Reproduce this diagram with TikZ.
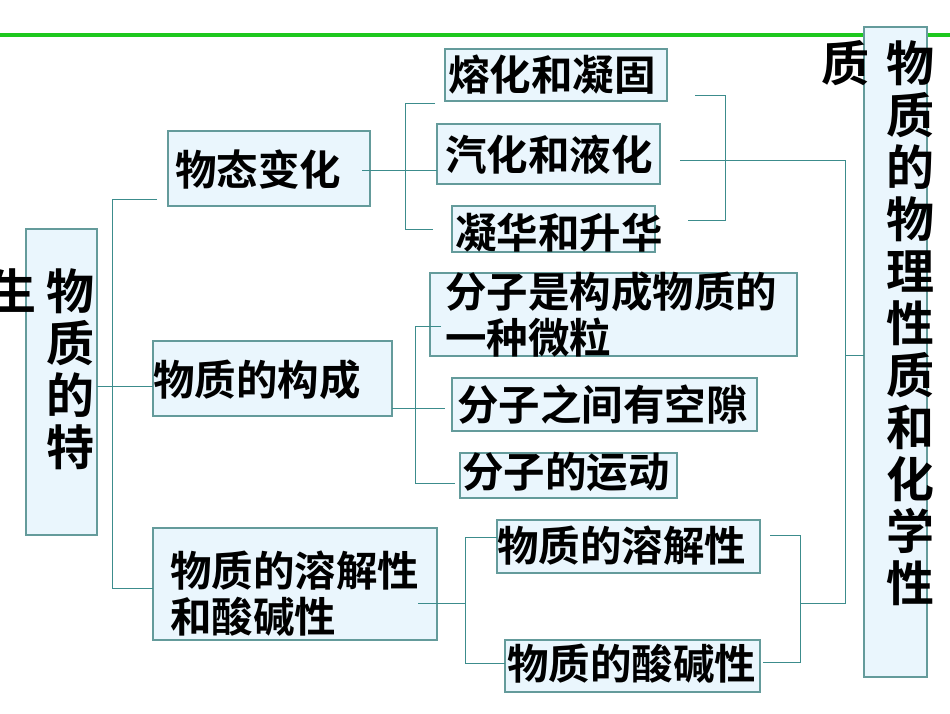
\documentclass[tikz,border=0pt]{standalone}
\usepackage{fontspec}
\setmainfont{Noto Sans CJK SC}[BoldFont={* Bold}]
\newfontfamily\cjk{Noto Sans CJK SC Bold}
\definecolor{linec}{RGB}{60,140,140}
\definecolor{boxfill}{RGB}{234,246,253}
\definecolor{boxline}{RGB}{100,155,155}
\definecolor{grn}{RGB}{30,200,30}
\begin{document}
\begin{tikzpicture}[x=1pt,y=-1pt,
  bx/.style={draw=boxline,fill=boxfill,line width=1.2pt},
  txt/.style={anchor=west,inner sep=0pt,font=\cjk\fontsize{41.5}{46}\selectfont},
  vtxt/.style={anchor=north,inner sep=0pt,align=center,font=\cjk\fontsize{48}{52}\selectfont},
  ln/.style={draw=linec,line width=1pt}]
\useasboundingbox (0,0) rectangle (950,713);
\draw[grn,line width=4pt] (0,35) -- (950,35);
% boxes
\draw[bx] (26,229) rectangle (97,535);
\draw[bx] (864,27) rectangle (927,677);
\draw[bx] (168,131) rectangle (370,206);
\draw[bx] (153,341) rectangle (392,416);
\draw[bx] (153,528) rectangle (437,640);
\draw[bx] (445,49) rectangle (667,101);
\draw[bx] (437,124) rectangle (660,184);
\draw[bx] (452,206) rectangle (655,252);
\draw[bx] (430,273) rectangle (797,356);
\draw[bx] (452,378) rectangle (757,431);
\draw[bx] (460,453) rectangle (677,498);
\draw[bx] (497,520) rectangle (760,573);
\draw[bx] (505,640) rectangle (760,692);
% connectors
\coordinate (l1) at (112,199);
\coordinate (l2) at (112,588);
\draw[ln] (157,199) -- (l1) -- (l2) -- (153,588);
\draw[ln] (97,386) -- (153,386);
\draw[ln] (362,170) -- (437,170);
\draw[ln] (435,103) -- (405,103) -- (405,229) -- (433,229);
\draw[ln] (392,408) -- (445,408);
\draw[ln] (441,326) -- (415,326) -- (415,483) -- (455,483);
\draw[ln] (418,603) -- (465,603);
\draw[ln] (497,537) -- (465,537) -- (465,663) -- (505,663);
\draw[ln] (695,95) -- (725,95) -- (725,220) -- (688,220);
\draw[ln] (680,160) -- (845,160) -- (845,603) -- (800,603);
\draw[ln] (845,355) -- (864,355);
\draw[ln] (770,535) -- (800,535) -- (800,662) -- (763,662);
% texts
\node[txt] (t1) at (175,170) {物态变化};
\node[txt] (t2) at (448,75) {熔化和凝固};
\node[txt] (t3) at (445,155) {汽化和液化};
\node[txt] (t4) at (455,233) {凝华和升华};
\node[txt,align=left] (t5) at (445,315) {分子是构成物质的\\一种微粒};
\node[txt] (t6) at (153,380) {物质的构成};
\node[txt] (t7) at (457,405) {分子之间有空隙};
\node[txt] (t8) at (462,472) {分子的运动};
\node[txt,align=left] (t9) at (170,594) {物质的溶解性\\和酸碱性};
\node[txt] (t10) at (497,546) {物质的溶解性};
\node[txt] (t11) at (507,664) {物质的酸碱性};
\node[vtxt] (v1) at (70,268) {物\\质\\的\\特};
\node[vtxt] (v2) at (12,268) {生};
\node[vtxt] (v3) at (910,40) {物\\质\\的\\物\\理\\性\\质\\和\\化\\学\\性};
\node[vtxt] (v4) at (845,40) {质};
\end{tikzpicture}
\end{document}
